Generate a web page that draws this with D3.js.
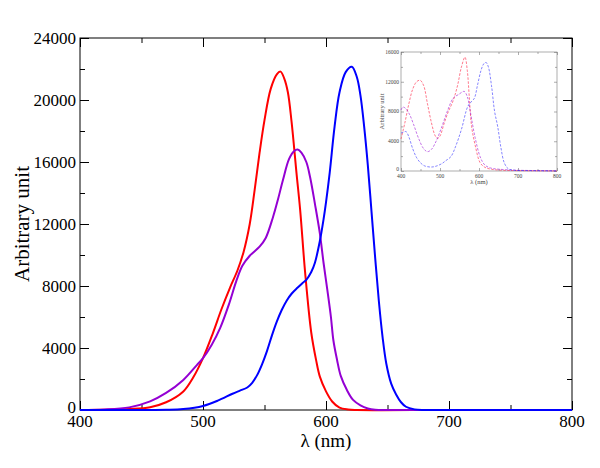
<!DOCTYPE html>
<html>
<head>
<meta charset="utf-8">
<script src="https://cdn.jsdelivr.net/npm/d3@7"></script>
<style>
  body { margin: 0; background: #fff; }
  svg { font-family: 'Liberation Serif', 'DejaVu Serif', serif; }
</style>
</head>
<body>
<div class="chart"></div>
<script>
'use strict';

// Emission spectra (main plot)
const redNm = [400, 420, 440, 457, 470, 484, 492, 500, 508, 515, 522, 528, 533, 538, 542, 546, 550, 555, 560, 563, 566, 569, 572, 576, 579, 583, 588, 592, 595, 600, 605, 611, 618, 625, 700, 800];
const redVal = [0, 10, 60, 180, 500, 1200, 2100, 3350, 4950, 6500, 7900, 9000, 10200, 12000, 14200, 16600, 18700, 20700, 21650, 21830, 21400, 20500, 18600, 15300, 12900, 8900, 5000, 3200, 2150, 1200, 550, 150, 30, 0, 0, 0];

const purpleNm = [400, 420, 440, 457, 470, 484, 495, 500, 507, 514, 521, 527, 532, 538, 546, 551, 557, 561, 565, 570, 574, 577, 580, 584, 587, 591, 595, 598, 601, 604, 606, 609, 612, 617, 622, 628, 634, 640, 650, 700, 800];
const purpleVal = [0, 30, 170, 560, 1100, 1940, 2900, 3350, 4200, 5300, 6800, 8300, 9300, 9950, 10540, 11100, 12470, 13600, 14840, 16200, 16700, 16800, 16600, 16000, 15050, 13300, 11400, 9500, 7800, 6000, 4500, 3230, 2200, 1290, 650, 300, 100, 20, 0, 0, 0];

const blueNm = [400, 470, 484, 500, 512, 524, 530, 536, 540, 544, 548, 552, 556, 560, 564, 568, 572, 577, 581, 584, 588, 591, 595, 598, 600, 603, 607, 611, 616, 621, 625, 628, 631, 634, 637, 640, 643, 646, 649, 653, 657, 661, 665, 672, 680, 700, 800];
const blueVal = [0, 10, 60, 260, 600, 1050, 1250, 1450, 1750, 2250, 2950, 3800, 4800, 5700, 6450, 7050, 7500, 7900, 8200, 8400, 8900, 9500, 10900, 12300, 13400, 15300, 18300, 20500, 21800, 22150, 21500, 20300, 18300, 15800, 12800, 9800, 7000, 4700, 3000, 1700, 1000, 500, 210, 40, 0, 0, 0];

// Absorption spectra (inset)
const inRedNm = [400, 410, 420, 430, 440, 449, 458, 468, 478, 488, 494, 500, 510, 520, 534, 545, 555, 564, 570, 575, 581, 590, 603, 615, 630, 660, 700, 800];
const inRedVal = [4300, 6500, 9000, 11000, 12000, 12200, 11500, 9000, 6500, 4700, 4400, 4700, 6300, 7800, 9500, 11500, 14000, 15300, 13500, 10000, 6000, 3500, 1100, 500, 250, 100, 50, 0];

const inPurpleNm = [400, 405, 412, 422, 432, 445, 458, 468, 478, 490, 505, 520, 534, 548, 562, 570, 575, 581, 590, 603, 615, 630, 650, 700, 800];
const inPurpleVal = [8200, 8600, 8400, 7600, 6300, 4400, 3000, 2600, 2900, 4000, 6000, 8200, 9800, 10300, 10700, 10000, 8800, 7000, 4500, 1900, 800, 400, 250, 100, 50];

const inBlueNm = [400, 405, 413, 420, 430, 440, 450, 460, 477, 490, 505, 515, 528, 540, 555, 571, 580, 588, 596, 605, 612, 618, 624, 632, 640, 648, 656, 665, 675, 690, 720, 800];
const inBlueVal = [5100, 5200, 5300, 4600, 3000, 1800, 1100, 700, 530, 650, 1000, 1400, 1930, 3300, 5600, 8650, 9300, 9770, 11500, 13500, 14400, 14600, 14000, 11500, 8000, 5960, 3200, 1070, 300, 100, 50, 0];

// Ticks
const xTicks = [400, 500, 600, 700, 800];
const yTicks = [0, 4000, 8000, 12000, 16000, 20000, 24000];
const inYTicks = [0, 4000, 8000, 12000, 16000];

const w = 600;
const h = 468;

const svg = d3.select('.chart')
  .append('svg')
  .attr('width', w)
  .attr('height', h);

// Framed xmgrace-like panel, ticks pointing inward on all four sides
function panel(box, xDom, yDom, opt) {
  const x = d3.scaleLinear().domain(xDom).range([box.left, box.right]);
  const y = d3.scaleLinear().domain(yDom).range([box.bottom, box.top]);
  const g = svg.append('g');

  g.append('rect')
    .attr('x', box.left).attr('y', box.top)
    .attr('width', box.right - box.left).attr('height', box.bottom - box.top)
    .attr('fill', 'none').attr('stroke', opt.frame).attr('stroke-width', opt.fw);

  const xMinor = d3.range(xDom[0], xDom[1] + 1, opt.xMinor);
  const yMinor = d3.range(yDom[0], yDom[1] + 1, opt.yMinor);

  const axes = [
    [d3.axisBottom(x), xMinor, opt.xMajor, `translate(0,${box.bottom})`],
    [d3.axisTop(x), xMinor, opt.xMajor, `translate(0,${box.top})`],
    [d3.axisLeft(y), yMinor, opt.yMajor, `translate(${box.left},0)`],
    [d3.axisRight(y), yMinor, opt.yMajor, `translate(${box.right},0)`]
  ];
  axes.forEach(([ax, minor, major, tr]) => {
    const a = g.append('g').attr('transform', tr)
      .call(ax.tickValues(minor)
        .tickSizeInner(-opt.minorLen).tickSizeOuter(0).tickFormat(''));
    a.select('.domain').remove();
    a.selectAll('.tick line')
      .attr('stroke', opt.frame)
      .attr('stroke-width', opt.fw)
      .each(function(d) {
        if (!major.includes(d)) return;
        const el = d3.select(this);
        ['x2', 'y2'].forEach(k => {
          const v = +el.attr(k);
          if (v) el.attr(k, Math.sign(v) * opt.majorLen);
        });
      });
  });

  // Tick labels
  g.selectAll(null).data(opt.xMajor).enter().append('text')
    .attr('x', d => x(d)).attr('y', box.bottom + opt.xLabOff)
    .attr('text-anchor', 'middle').attr('font-size', opt.fs).attr('fill', opt.text)
    .text(d => d);
  g.selectAll(null).data(opt.yMajor).enter().append('text')
    .attr('x', box.left - opt.yLabOff).attr('y', d => y(d) - (d === 0 ? opt.zeroLift : 0))
    .attr('dy', '0.35em')
    .attr('text-anchor', 'end').attr('font-size', opt.fs).attr('fill', opt.text)
    .text(d => d);

  // Titles
  g.append('text')
    .attr('x', (box.left + box.right) / 2).attr('y', box.bottom + opt.xTitleOff)
    .attr('text-anchor', 'middle').attr('font-size', opt.tfs).attr('fill', opt.text)
    .text('λ (nm)');
  g.append('text')
    .attr('transform', `translate(${box.left - opt.yTitleOff},${(box.top + box.bottom) / 2}) rotate(-90)`)
    .attr('text-anchor', 'middle').attr('font-size', opt.ytfs).attr('fill', opt.text)
    .text('Arbitrary unit');

  return { x, y, g };
}

function draw(p, nm, val, color, width, dash, op) {
  const line = d3.line()
    .x(d => p.x(d[0]))
    .y(d => p.y(d[1]))
    .curve(d3.curveCatmullRom.alpha(0.5));
  p.g.append('path')
    .datum(nm.map((n, i) => [n, val[i]]))
    .attr('d', line)
    .attr('fill', 'none')
    .attr('stroke', color)
    .attr('stroke-width', width)
    .attr('stroke-dasharray', dash)
    .attr('stroke-opacity', op)
    .attr('stroke-linejoin', 'round');
}

// Main plot
const main = panel({ left: 80, right: 572, top: 38, bottom: 410 }, [400, 800], [0, 24000], {
  xMinor: 50, yMinor: 2000, xMajor: xTicks, yMajor: yTicks,
  majorLen: 9, minorLen: 5, frame: '#000', fw: 1, text: '#000',
  fs: 17, tfs: 19, ytfs: 21, xLabOff: 17, yLabOff: 4, xTitleOff: 37, yTitleOff: 51,
  zeroLift: 3
});
draw(main, redNm, redVal, '#ff0000', 2, null, 1);
draw(main, purpleNm, purpleVal, '#9400d3', 2, null, 1);
draw(main, blueNm, blueVal, '#0000ff', 2, null, 1);

// Inset
const inset = panel({ left: 401, right: 557, top: 52, bottom: 171 }, [400, 800], [0, 16000], {
  xMinor: 50, yMinor: 2000, xMajor: xTicks, yMajor: inYTicks,
  majorLen: 3, minorLen: 2, frame: '#777', fw: 0.6, text: '#444',
  fs: 5.5, tfs: 6.5, ytfs: 6.5, xLabOff: 6.5, yLabOff: 2, xTitleOff: 13, yTitleOff: 17,
  zeroLift: 2
});
draw(inset, inRedNm, inRedVal, '#ff2040', 1, '2.5,1.5', 0.6);
draw(inset, inPurpleNm, inPurpleVal, '#9400d3', 1, '2.5,1.5', 0.55);
draw(inset, inBlueNm, inBlueVal, '#2020ff', 1, '2.5,1.5', 0.55);
</script>
</body>
</html>
